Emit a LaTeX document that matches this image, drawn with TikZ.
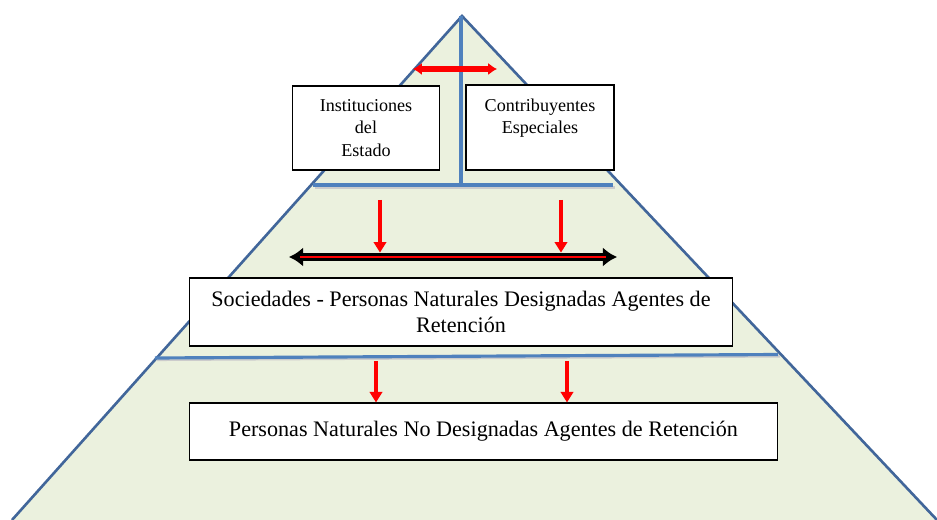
\documentclass[tikz,border=0pt]{standalone}
\usepackage{fontspec}
\setmainfont{Liberation Serif}
\usetikzlibrary{arrows.meta}
\definecolor{pyrfill}{RGB}{235,241,222}
\definecolor{pyrline}{RGB}{65,102,154}
\definecolor{shelf}{RGB}{79,129,189}
\tikzset{
    box/.style={draw, semithick, fill=white, align=center, inner sep=0pt},
    downarrow/.style={red, line width=2.3pt, -{Triangle[width=7pt, length=6pt]}},
    shelfline/.style={shelf, line width=1.8pt},
}

\begin{document}
\begin{tikzpicture}[x=0.02cm, y=-0.02cm]
        \useasboundingbox (0,0) rectangle (937,520);

        % pyramid
        \fill[pyrfill] (12,520) -- (462,16) -- (937,520) -- cycle;
        \draw[pyrline, line width=1.5pt] (12,520) -- (462,16) -- (937,520);

        \draw[shelfline] (461,16) -- (461,185);
        \draw[gray!40, line width=1.2pt] (315,187.5) -- (615,187.5);
        \draw[shelfline] (313,185) -- (613,185);
        \draw[gray!40, line width=1.2pt] (157,360) -- (780,356.5);
        \draw[shelfline] (155,358) -- (778,354.5);

        % boxes
        \node[box, minimum width=2.94cm, minimum height=1.68cm, font=\fontsize{10.3}{12.8}\selectfont] (inst) at (366,128) {Instituciones\\del\\Estado};
        \node[box, minimum width=2.96cm, minimum height=1.70cm, font=\fontsize{10.3}{12.8}\selectfont] (contrib) at (540,127.5) {Contribuyentes\\Especiales\\~};
        \node[box, minimum width=10.88cm, minimum height=1.36cm, font=\fontsize{12.6}{14.8}\selectfont] (soc) at (461,312) {Sociedades - Personas Naturales Designadas Agentes de\\Retenci\'on};
        \node[box, minimum width=11.78cm, minimum height=1.14cm, font=\fontsize{12.6}{14.8}\selectfont] (pn) at (483.5,431.5) {Personas Naturales No Designadas Agentes de Retenci\'on};

        % arrows
        \coordinate (h1) at (413,69);
        \coordinate (h2) at (497,69);
        \draw[red, line width=3.4pt, {Latex[length=5pt, width=7pt]}-{Latex[length=5pt, width=7pt]}] (h1) -- (h2);

        \coordinate (bl) at (289,257);
        \coordinate (br) at (617,257);
        \draw[black, line width=4pt, {Latex[length=8pt, width=11pt]}-{Latex[length=8pt, width=11pt]}] (bl) -- (br);
        \draw[red, line width=1.6pt, shorten <=6pt, shorten >=6pt] (bl) -- (br);

        \coordinate (t1) at (380,200);
        \coordinate (t2) at (561,200);
        \draw[downarrow] (t1) -- ([yshift=2.5pt]t1 |- bl);
        \draw[downarrow] (t2) -- ([yshift=2.5pt]t2 |- bl);

        \coordinate (m1) at (376,361);
        \coordinate (m2) at (567,361);
        \draw[downarrow] (m1) -- (m1 |- pn.north);
        \draw[downarrow] (m2) -- (m2 |- pn.north);
\end{tikzpicture}
\end{document}
